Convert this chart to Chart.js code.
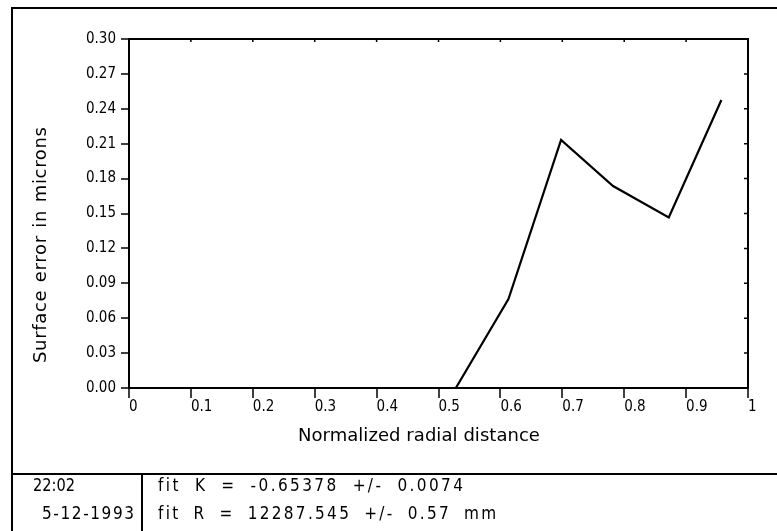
<!DOCTYPE html>
<html>
<head>
<meta charset="utf-8">
<script src="https://cdn.jsdelivr.net/npm/chart.js@4/dist/chart.umd.min.js"></script>
<style>
  html, body { margin: 0; padding: 0; background: #fff; }
  #wrap { width: 777px; height: 531px; }
</style>
</head>
<body>
<div id="wrap"><canvas id="c" width="777" height="531"></canvas></div>
<script>
// ---- data ----
const radialDistance = [0.528, 0.613, 0.698, 0.782, 0.872, 0.957];
const surfaceError   = [0.000, 0.0765, 0.2132, 0.1736, 0.1467, 0.2476];
const xTickLabels = ['0', '0.1', '0.2', '0.3', '0.4', '0.5', '0.6', '0.7', '0.8', '0.9', '1'];
const yTickLabels = ['0.00', '0.03', '0.06', '0.09', '0.12', '0.15', '0.18', '0.21', '0.24', '0.27', '0.30'];
const xTitle = 'Normalized radial distance';
const yTitle = 'Surface error in microns';
const infoLeft  = ['22:02', '5-12-1993'];
const infoRight = ['fit K = -0.65378 +/- 0.0074', 'fit R = 12287.545 +/- 0.57 mm'];

const COND = "'DejaVu Sans Condensed', 'DejaVu Sans', sans-serif";
const REG = "'DejaVu Sans', sans-serif";
const TICK_FONT = { family: COND, size: 15 };

// draw text so that it spans `width` pixels from `left`
function fitText(ctx, text, left, y, width, size, family, spaceShare) {
  ctx.font = size + 'px ' + family;
  ctx.textBaseline = 'middle';
  ctx.textAlign = 'left';
  const m = ctx.measureText(text).width;
  const n = text.length;
  const nSpaces = (text.match(/ /g) || []).length;
  const canSpace = ('letterSpacing' in ctx) && ('wordSpacing' in ctx);
  if (width >= m && canSpace) {
    const extra = width - m;
    const share = nSpaces > 0 ? (spaceShare == null ? 0.5 : spaceShare) : 0;
    const ws = nSpaces > 0 ? extra * share / nSpaces : 0;
    const ls = extra * (1 - share) / Math.max(1, n - 1);
    ctx.letterSpacing = ls.toFixed(2) + 'px';
    ctx.wordSpacing = ws.toFixed(2) + 'px';
    ctx.fillText(text, left, y);
    ctx.letterSpacing = '0px';
    ctx.wordSpacing = '0px';
  } else {
    ctx.save();
    ctx.translate(left, y);
    ctx.scale(width / m, 1);
    ctx.fillText(text, 0, 0);
    ctx.restore();
  }
}

const decor = {
  id: 'decor',
  afterDraw(chart) {
    const ctx = chart.ctx;
    const a = chart.chartArea;
    const xs = chart.scales.x, ys = chart.scales.y;
    ctx.save();
    ctx.strokeStyle = '#000';
    ctx.fillStyle = '#000';
    // plot frame top/right
    ctx.lineWidth = 2;
    ctx.beginPath();
    ctx.moveTo(a.left, a.top); ctx.lineTo(a.right, a.top); ctx.lineTo(a.right, a.bottom);
    ctx.stroke();
    // inward ticks on top and right
    ctx.lineWidth = 1.5;
    ctx.beginPath();
    xs.ticks.forEach(t => {
      if (t.value > 0 && t.value < 1) {
        const px = xs.getPixelForValue(t.value);
        ctx.moveTo(px, a.top); ctx.lineTo(px, a.top + 3);
      }
    });
    ys.ticks.forEach(t => {
      if (t.value > 0 && t.value < 0.3) {
        const py = ys.getPixelForValue(t.value);
        ctx.moveTo(a.right, py); ctx.lineTo(a.right - 4, py);
      }
    });
    ctx.stroke();
    // outer frame and info table
    ctx.lineWidth = 2;
    ctx.beginPath();
    ctx.moveTo(12, 531); ctx.lineTo(12, 8); ctx.lineTo(777, 8);
    ctx.moveTo(12, 474); ctx.lineTo(777, 474);
    ctx.moveTo(142, 474); ctx.lineTo(142, 531);
    ctx.stroke();
    // axis titles
    fitText(ctx, xTitle, 298, 436, 242, 18, REG, 0.2);
    ctx.save();
    ctx.translate(41, 245);
    ctx.rotate(-Math.PI / 2);
    fitText(ctx, yTitle, -118, 0, 236, 18, REG, 0.2);
    ctx.restore();
    // info table text
    fitText(ctx, infoLeft[0], 33, 487, 42, 17, COND);
    fitText(ctx, infoLeft[1], 42, 515, 92, 17, COND);
    fitText(ctx, infoRight[0], 158, 487, 305, 17, COND, 0.35);
    fitText(ctx, infoRight[1], 158, 515, 338, 17, COND, 0.35);
    ctx.restore();
  }
};

new Chart(document.getElementById('c'), {
  type: 'line',
  data: {
    datasets: [{
      data: radialDistance.map((x, i) => ({ x: x, y: surfaceError[i] })),
      borderColor: '#000',
      borderWidth: 2.2,
      pointRadius: 0,
      tension: 0,
      fill: false
    }]
  },
  options: {
    responsive: false,
    devicePixelRatio: 1,
    animation: false,
    layout: { padding: { top: 39, right: 29, left: 0, bottom: 0 } },
    plugins: { legend: { display: false }, tooltip: { enabled: false } },
    scales: {
      x: {
        type: 'linear', min: 0, max: 1,
        afterFit(s) { s.height = 143; },
        afterBuildTicks(s) { s.ticks = xTickLabels.map(l => ({ value: parseFloat(l) })); },
        ticks: {
          autoSkip: false, maxRotation: 0, align: 'start', padding: 0,
          color: '#000', font: TICK_FONT,
          callback: (v, i) => xTickLabels[i]
        },
        grid: { drawOnChartArea: false, drawTicks: true, tickLength: 10, color: '#000', lineWidth: 2, tickWidth: 1.5 },
        border: { display: true, color: '#000', width: 2 }
      },
      y: {
        type: 'linear', min: 0, max: 0.3,
        afterFit(s) { s.width = 129; },
        afterBuildTicks(s) { s.ticks = yTickLabels.map(l => ({ value: parseFloat(l) })); },
        ticks: {
          autoSkip: false, padding: 5,
          color: '#000', font: TICK_FONT,
          callback: (v, i) => yTickLabels[i]
        },
        grid: { drawOnChartArea: false, drawTicks: true, tickLength: 8, color: '#000', lineWidth: 2, tickWidth: 1.5 },
        border: { display: true, color: '#000', width: 2 }
      }
    }
  },
  plugins: [decor]
});
</script>
</body>
</html>
